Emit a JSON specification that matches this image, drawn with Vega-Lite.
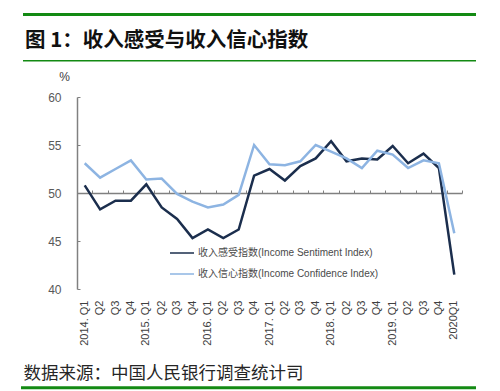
{
  "$schema": "https://vega.github.io/schema/vega-lite/v6.json",
  "autosize": "none",
  "width": 385,
  "height": 192,
  "padding": {"left": 77, "top": 97, "right": 38, "bottom": 102},
  "background": "white",
  "config": {"view": {"stroke": null}},
  "title": {
    "text": "图 1：收入感受与收入信心指数",
    "anchor": "start",
    "frame": "group",
    "dx": -52,
    "offset": 0,
    "dy": 38,
    "font": "Noto Sans CJK SC",
    "fontSize": 20.5,
    "fontWeight": "bold",
    "color": "#111111"
  },
  "data": {
    "values": [
      {"q": "2014. Q1", "s": "收入感受指数(Income Sentiment Index)", "v": 50.8},
      {"q": "2014Q2", "s": "收入感受指数(Income Sentiment Index)", "v": 48.3},
      {"q": "2014Q3", "s": "收入感受指数(Income Sentiment Index)", "v": 49.2},
      {"q": "2014Q4", "s": "收入感受指数(Income Sentiment Index)", "v": 49.2},
      {"q": "2015. Q1", "s": "收入感受指数(Income Sentiment Index)", "v": 50.9},
      {"q": "2015Q2", "s": "收入感受指数(Income Sentiment Index)", "v": 48.5},
      {"q": "2015Q3", "s": "收入感受指数(Income Sentiment Index)", "v": 47.3},
      {"q": "2015Q4", "s": "收入感受指数(Income Sentiment Index)", "v": 45.3},
      {"q": "2016. Q1", "s": "收入感受指数(Income Sentiment Index)", "v": 46.2},
      {"q": "2016Q2", "s": "收入感受指数(Income Sentiment Index)", "v": 45.3},
      {"q": "2016Q3", "s": "收入感受指数(Income Sentiment Index)", "v": 46.2},
      {"q": "2016Q4", "s": "收入感受指数(Income Sentiment Index)", "v": 51.8},
      {"q": "2017. Q1", "s": "收入感受指数(Income Sentiment Index)", "v": 52.5},
      {"q": "2017Q2", "s": "收入感受指数(Income Sentiment Index)", "v": 51.3},
      {"q": "2017Q3", "s": "收入感受指数(Income Sentiment Index)", "v": 52.8},
      {"q": "2017Q4", "s": "收入感受指数(Income Sentiment Index)", "v": 53.6},
      {"q": "2018. Q1", "s": "收入感受指数(Income Sentiment Index)", "v": 55.4},
      {"q": "2018Q2", "s": "收入感受指数(Income Sentiment Index)", "v": 53.3},
      {"q": "2018Q3", "s": "收入感受指数(Income Sentiment Index)", "v": 53.6},
      {"q": "2018Q4", "s": "收入感受指数(Income Sentiment Index)", "v": 53.5},
      {"q": "2019. Q1", "s": "收入感受指数(Income Sentiment Index)", "v": 54.9},
      {"q": "2019Q2", "s": "收入感受指数(Income Sentiment Index)", "v": 53.1},
      {"q": "2019Q3", "s": "收入感受指数(Income Sentiment Index)", "v": 54.1},
      {"q": "2019Q4", "s": "收入感受指数(Income Sentiment Index)", "v": 52.6},
      {"q": "2020Q1", "s": "收入感受指数(Income Sentiment Index)", "v": 41.5},
      {"q": "2014. Q1", "s": "收入信心指数(Income Confidence Index)", "v": 53.1},
      {"q": "2014Q2", "s": "收入信心指数(Income Confidence Index)", "v": 51.6},
      {"q": "2014Q3", "s": "收入信心指数(Income Confidence Index)", "v": 52.5},
      {"q": "2014Q4", "s": "收入信心指数(Income Confidence Index)", "v": 53.4},
      {"q": "2015. Q1", "s": "收入信心指数(Income Confidence Index)", "v": 51.4},
      {"q": "2015Q2", "s": "收入信心指数(Income Confidence Index)", "v": 51.5},
      {"q": "2015Q3", "s": "收入信心指数(Income Confidence Index)", "v": 49.9},
      {"q": "2015Q4", "s": "收入信心指数(Income Confidence Index)", "v": 49.1},
      {"q": "2016. Q1", "s": "收入信心指数(Income Confidence Index)", "v": 48.5},
      {"q": "2016Q2", "s": "收入信心指数(Income Confidence Index)", "v": 48.8},
      {"q": "2016Q3", "s": "收入信心指数(Income Confidence Index)", "v": 49.8},
      {"q": "2016Q4", "s": "收入信心指数(Income Confidence Index)", "v": 55.0},
      {"q": "2017. Q1", "s": "收入信心指数(Income Confidence Index)", "v": 53.0},
      {"q": "2017Q2", "s": "收入信心指数(Income Confidence Index)", "v": 52.9},
      {"q": "2017Q3", "s": "收入信心指数(Income Confidence Index)", "v": 53.3},
      {"q": "2017Q4", "s": "收入信心指数(Income Confidence Index)", "v": 55.0},
      {"q": "2018. Q1", "s": "收入信心指数(Income Confidence Index)", "v": 54.3},
      {"q": "2018Q2", "s": "收入信心指数(Income Confidence Index)", "v": 53.6},
      {"q": "2018Q3", "s": "收入信心指数(Income Confidence Index)", "v": 52.6},
      {"q": "2018Q4", "s": "收入信心指数(Income Confidence Index)", "v": 54.4},
      {"q": "2019. Q1", "s": "收入信心指数(Income Confidence Index)", "v": 54.0},
      {"q": "2019Q2", "s": "收入信心指数(Income Confidence Index)", "v": 52.6},
      {"q": "2019Q3", "s": "收入信心指数(Income Confidence Index)", "v": 53.4},
      {"q": "2019Q4", "s": "收入信心指数(Income Confidence Index)", "v": 53.1},
      {"q": "2020Q1", "s": "收入信心指数(Income Confidence Index)", "v": 45.8}
    ]
  },
  "layer": [
    {
      "mark": {"type": "line", "strokeWidth": 2.5},
      "encoding": {
        "x": {
          "field": "q",
          "type": "ordinal",
          "sort": null,
          "bandPosition": 0.5,
          "scale": {"type": "band", "paddingInner": 0, "paddingOuter": 0},
          "axis": {
            "orient": "top",
            "offset": -96,
            "title": null,
            "labels": false,
            "domainColor": "#808080",
            "domainWidth": 1.5,
            "ticks": true,
            "tickBand": "extent",
            "tickSize": 3,
            "tickColor": "#808080",
            "tickWidth": 1
          }
        },
        "y": {
          "field": "v",
          "type": "quantitative",
          "scale": {"domain": [40, 60], "nice": false, "zero": false},
          "axis": {
            "values": [40, 45, 50, 55, 60],
            "grid": false,
            "domainColor": "#808080",
            "domainWidth": 1.5,
            "tickColor": "#808080",
            "tickSize": -3,
            "labelPadding": 19,
            "labelFont": "Liberation Sans",
            "labelFontSize": 12,
            "labelColor": "#595959",
            "title": "%",
            "titleAngle": 0,
            "titleX": -13,
            "titleY": -21,
            "titleAlign": "center",
            "titleBaseline": "middle",
            "titleFont": "Liberation Sans",
            "titleFontSize": 12,
            "titleFontWeight": "normal",
            "titleColor": "#404040"
          }
        },
        "color": {
          "field": "s",
          "type": "nominal",
          "scale": {
            "domain": ["收入感受指数(Income Sentiment Index)", "收入信心指数(Income Confidence Index)"],
            "range": ["#1b2e4d", "#8db4e2"]
          },
          "legend": {
            "orient": "none",
            "legendX": 92,
            "legendY": 143,
            "title": null,
            "padding": 0,
            "symbolType": "stroke",
            "symbolSize": 576,
            "symbolStrokeWidth": 1.5,
            "labelFont": "'Liberation Sans', 'Noto Sans CJK SC'",
            "labelFontSize": 10,
            "labelColor": "#4a4a4a",
            "labelOffset": 3,
            "labelLimit": 400,
            "rowPadding": 3
          }
        }
      }
    },
    {
      "mark": {"type": "line", "opacity": 0},
      "encoding": {
        "x": {
          "field": "q",
          "type": "ordinal",
          "sort": null,
          "bandPosition": 0.5,
          "axis": {
            "orient": "bottom",
            "domain": false,
            "ticks": false,
            "labelAngle": -90,
            "labelPadding": 11,
            "labelFont": "Liberation Sans",
            "labelFontSize": 11,
            "labelColor": "#404040",
            "labelExpr": "indexof(datum.label, 'Q1') >= 0 ? datum.label : slice(datum.label, 4)",
            "title": "数据来源：中国人民银行调查统计司",
            "titleX": -54,
            "titleY": 84,
            "titleAlign": "left",
            "titleBaseline": "middle",
            "titleFont": "Noto Sans CJK SC",
            "titleFontSize": 17.5,
            "titleFontWeight": "normal",
            "titleColor": "#262626"
          }
        },
        "y": {"field": "v", "type": "quantitative"},
        "detail": {"field": "s", "type": "nominal"}
      }
    },
    {
      "data": {"values": [{"line": "top"}]},
      "mark": {"type": "rule", "color": "#138a13", "strokeWidth": 3},
      "encoding": {
        "x": {"value": -54},
        "x2": {"value": 399},
        "y": {"value": -82.5}
      }
    },
    {
      "data": {"values": [{"line": "under title"}]},
      "mark": {"type": "rule", "color": "#138a13", "strokeWidth": 1.5},
      "encoding": {
        "x": {"value": -54},
        "x2": {"value": 399},
        "y": {"value": -36.3}
      }
    },
    {
      "data": {"values": [{"line": "bottom"}]},
      "mark": {"type": "rule", "color": "#138a13", "strokeWidth": 3},
      "encoding": {
        "x": {"value": -56},
        "x2": {"value": 399},
        "y": {"value": 290.8}
      }
    }
  ],
  "resolve": {"axis": {"x": "independent"}}
}
